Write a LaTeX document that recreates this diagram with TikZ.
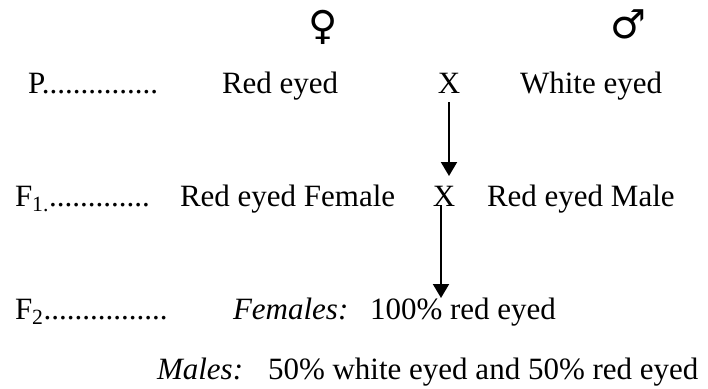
\documentclass[tikz,border=0pt]{standalone}
\usepackage{fontspec}
\setmainfont{Liberation Serif}
\newfontfamily\symfont{DejaVu Sans}
\usetikzlibrary{arrows.meta}
\begin{document}
\begin{tikzpicture}[x=1pt,y=-1pt,
  txt/.style={inner sep=0pt,outer sep=0pt,anchor=base west,font=\fontsize{31}{37}\selectfont},
  ctr/.style={inner sep=0pt,outer sep=0pt,anchor=base,font=\fontsize{31}{37}\selectfont},
  sym/.style={inner sep=0pt,outer sep=0pt,anchor=center,font=\symfont\fontsize{40}{46}\selectfont},
  arr/.style={line width=2pt,-{Triangle[width=16pt,length=14pt]}}]
\useasboundingbox (0,0) rectangle (708,388);
% symbols
\node[sym] (fem) at (323,27) {♀};
\node[sym] (mal) at (628,24) {♂};
% P row
\node[txt] (p) at (28,93) {P...............};
\node[txt] (p1) at (222,93) {Red eyed};
\node[ctr] (x1) at (449,93) {X};
\node[txt] (p2) at (520,93) {White eyed};
% F1 row
\node[txt] (f1) at (15,206) {F\textsubscript{1.}.............};
\node[txt] (f1a) at (180,206) {Red eyed Female};
\node[ctr] (x2) at (444,206) {X};
\node[txt] (f1b) at (487,206) {Red eyed Male};
% F2 row
\node[txt] (f2) at (15,319) {F\textsubscript{2}................};
\node[txt] (fem2) at (233,319) {\textit{Females:}};
\node[txt] (fem3) at (370,319) {100\% red eyed};
\node[txt] (mal2) at (157,379) {\textit{Males:}};
\node[txt] (mal3) at (268,379) {50\% white eyed and 50\% red eyed};
% arrows
\coordinate (a1s) at (449,102);
\coordinate (a1e) at (449,176);
\coordinate (a2s) at (441,205);
\coordinate (a2e) at (441,298);
\draw[arr] (a1s) -- (a1e);
\draw[arr] (a2s) -- (a2e);
\end{tikzpicture}
\end{document}
